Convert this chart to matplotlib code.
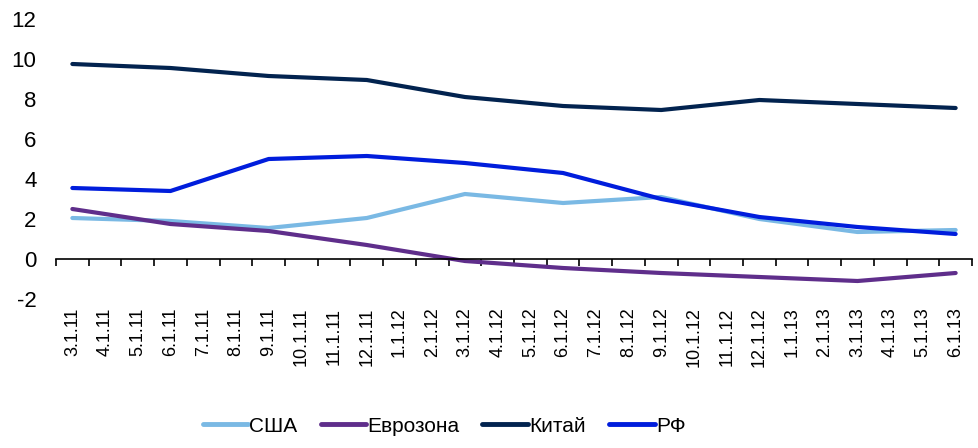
import matplotlib.pyplot as plt
import numpy as np

plt.rcParams['font.family'] = ['Liberation Sans', 'DejaVu Sans']
plt.rcParams['axes.unicode_minus'] = False

# месячные подписи оси X
months = ['3.1.11', '4.1.11', '5.1.11', '6.1.11', '7.1.11', '8.1.11', '9.1.11',
          '10.1.11', '11.1.11', '12.1.11', '1.1.12', '2.1.12', '3.1.12', '4.1.12',
          '5.1.12', '6.1.12', '7.1.12', '8.1.12', '9.1.12', '10.1.12', '11.1.12',
          '12.1.12', '1.1.13', '2.1.13', '3.1.13', '4.1.13', '5.1.13', '6.1.13']

# квартальные точки
quarters = ['3.1.11', '6.1.11', '9.1.11', '12.1.11', '3.1.12', '6.1.12',
            '9.1.12', '12.1.12', '3.1.13', '6.1.13']

usa = [2.05, 1.9, 1.55, 2.05, 3.25, 2.8, 3.1, 2.0, 1.35, 1.45]
eurozone = [2.5, 1.75, 1.4, 0.7, -0.1, -0.45, -0.7, -0.9, -1.1, -0.7]
china = [9.75, 9.55, 9.15, 8.95, 8.1, 7.65, 7.45, 7.95, 7.75, 7.55]
russia = [3.55, 3.4, 5.0, 5.15, 4.8, 4.3, 3.0, 2.1, 1.6, 1.25]

series = [
    ('США', usa, '#7ab9e4'),
    ('Еврозона', eurozone, '#5f2e8b'),
    ('Китай', china, '#02234f'),
    ('РФ', russia, '#001ddc'),
]

fig = plt.figure(figsize=(9.79, 4.48), dpi=100)
ax = fig.add_axes([56 / 979, 1 - 299 / 448, (972 - 56) / 979, 280 / 448])

x = [months.index(q) for q in quarters]
lines = []
for name, vals, color in series:
    ln, = ax.plot(x, vals, color=color, lw=3.0, solid_joinstyle='round',
                  solid_capstyle='round', label=name)
    lines.append(ln)

ax.set_xlim(-0.5, len(months) - 0.5)
ax.set_ylim(-2, 12)
ax.set_yticks(np.arange(-2, 13, 2))
ax.tick_params(axis='y', length=0, pad=14, labelsize=16)

for s in ['left', 'right', 'top']:
    ax.spines[s].set_visible(False)
ax.spines['bottom'].set_position(('data', 0))
ax.spines['bottom'].set_linewidth(1.2)

# деления на границах, подписи по центрам
ax.set_xticks(np.arange(-0.5, len(months), 1.0))
ax.set_xticklabels([])
ax.tick_params(axis='x', which='major', direction='out', length=5, width=1.2)
ax.set_xticks(np.arange(len(months)), minor=True)
ax.set_xticklabels(months, minor=True, rotation=90, fontsize=13, va='top')
ax.tick_params(axis='x', which='minor', length=0, pad=35)

leg = fig.legend(handles=lines, loc='center', bbox_to_anchor=(444 / 979, 1 - 426 / 448),
                 ncol=4, frameon=False, fontsize=15, handlelength=2.2,
                 handletextpad=0.05, columnspacing=1.1)
for h in leg.legend_handles:
    h.set_linewidth(3.5)

fig.savefig('out.png', dpi=100)
